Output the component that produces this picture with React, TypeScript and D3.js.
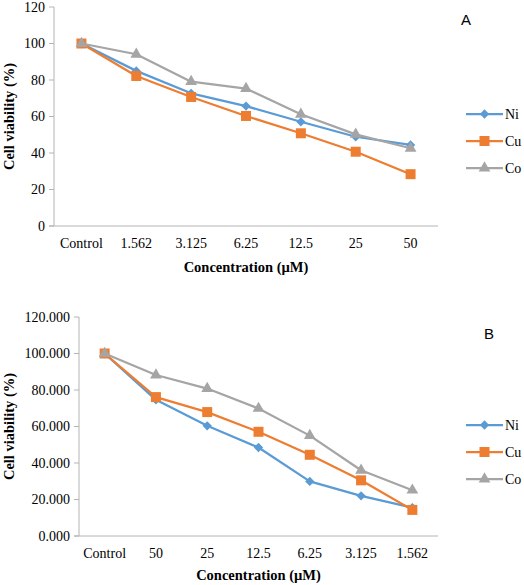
import React, { useEffect, useRef } from "react";
import * as d3 from "d3";

const seriesNames = ["Ni", "Cu", "Co"];
const colors = ["#5B9BD5", "#ED7D31", "#A5A5A5"];

const catsA = ["Control", "1.562", "3.125", "6.25", "12.5", "25", "50"];
const niA = [100, 85, 72.7, 65.7, 57.1, 48.9, 44.4];
const cuA = [100, 82.2, 70.7, 60.3, 50.8, 40.7, 28.4];
const coA = [100, 94.1, 79.1, 75.3, 61.2, 50.2, 42.6];
const ticksA = [0, 20, 40, 60, 80, 100, 120];

const catsB = ["Control", "50", "25", "12.5", "6.25", "3.125", "1.562"];
const niB = [100, 74.6, 60.4, 48.5, 29.9, 22.0, 15.6];
const cuB = [100, 76.1, 67.9, 57.1, 44.5, 30.5, 14.3];
const coB = [100, 88.2, 80.8, 69.9, 55.0, 36.0, 25.1];
const ticksB = [0, 20, 40, 60, 80, 100, 120];

type Panel = {
  cats: string[];
  series: number[][];
  ticks: number[];
  fmt: (v: number) => string;
  left: number;
  right: number;
  top: number;
  bottom: number;
  label: string;
  labelX: number;
  labelY: number;
  legendY: number;
  xTitleY: number;
  tickLabelY: number;
};

export default function App() {
  const ref = useRef<SVGSVGElement>(null);

  useEffect(() => {
    const svg = d3.select(ref.current);
    svg.selectAll("*").remove();

    const panels: Panel[] = [
      {
        cats: catsA,
        series: [niA, cuA, coA],
        ticks: ticksA,
        fmt: d3.format("d"),
        left: 54,
        right: 438,
        top: 7,
        bottom: 226,
        label: "A",
        labelX: 466,
        labelY: 20,
        legendY: 114,
        xTitleY: 267,
        tickLabelY: 243,
      },
      {
        cats: catsB,
        series: [niB, cuB, coB],
        ticks: ticksB,
        fmt: d3.format(".3f"),
        left: 79,
        right: 438,
        top: 317,
        bottom: 536,
        label: "B",
        labelX: 489,
        labelY: 334,
        legendY: 425,
        xTitleY: 575,
        tickLabelY: 553,
      },
    ];

    const axisColor = "#b4b4b4";

    panels.forEach((p) => {
      const g = svg.append("g");
      const x = d3.scaleBand<string>().domain(p.cats).range([p.left, p.right]);
      const y = d3.scaleLinear().domain([0, 120]).range([p.bottom, p.top]);
      const cx = (c: string) => (x(c) as number) + x.bandwidth() / 2;

      // y axis line
      g.append("line")
        .attr("x1", p.left).attr("x2", p.left)
        .attr("y1", y(120)).attr("y2", y(0))
        .attr("stroke", axisColor).attr("stroke-width", 1);
      // x axis line
      g.append("line")
        .attr("x1", p.left - 5).attr("x2", p.right)
        .attr("y1", y(0)).attr("y2", y(0))
        .attr("stroke", axisColor).attr("stroke-width", 1);

      // y ticks
      p.ticks.forEach((t) => {
        g.append("line")
          .attr("x1", p.left - 5).attr("x2", p.left)
          .attr("y1", y(t)).attr("y2", y(t))
          .attr("stroke", axisColor).attr("stroke-width", 1);
        g.append("text")
          .attr("x", p.left - 9)
          .attr("y", y(t))
          .attr("dy", "0.35em")
          .attr("text-anchor", "end")
          .attr("font-family", "'Liberation Serif', 'Times New Roman', serif")
          .attr("font-size", 14)
          .attr("fill", "#000")
          .text(p.fmt(t));
      });

      // x tick labels
      p.cats.forEach((c) => {
        g.append("text")
          .attr("x", cx(c))
          .attr("y", p.tickLabelY)
          .attr("dy", "0.35em")
          .attr("text-anchor", "middle")
          .attr("font-family", "'Liberation Serif', 'Times New Roman', serif")
          .attr("font-size", 14)
          .attr("fill", "#000")
          .text(c);
      });

      // axis titles
      g.append("text")
        .attr("x", (p.left + p.right) / 2)
        .attr("y", p.xTitleY)
        .attr("dy", "0.35em")
        .attr("text-anchor", "middle")
        .attr("font-family", "'Liberation Serif', 'Times New Roman', serif")
        .attr("font-weight", "bold")
        .attr("font-size", 14.5)
        .text("Concentration (µM)");

      g.append("text")
        .attr("transform", `translate(9,${(p.top + p.bottom) / 2}) rotate(-90)`)
        .attr("dy", "0.35em")
        .attr("text-anchor", "middle")
        .attr("font-family", "'Liberation Serif', 'Times New Roman', serif")
        .attr("font-weight", "bold")
        .attr("font-size", 14.5)
        .text("Cell viability (%)");

      const line = d3
        .line<number>()
        .x((_, i) => cx(p.cats[i]))
        .y((d) => y(d));

      const drawMarker = (sel: d3.Selection<SVGGElement, unknown, null, undefined>, k: number, mx: number, my: number) => {
        if (k === 0) {
          sel.append("path")
            .attr("d", d3.symbol().type(d3.symbolDiamond2).size(55)())
            .attr("transform", `translate(${mx},${my})`)
            .attr("fill", colors[k]);
        } else if (k === 1) {
          sel.append("rect")
            .attr("x", mx - 5).attr("y", my - 5)
            .attr("width", 10).attr("height", 10)
            .attr("fill", colors[k]);
        } else {
          sel.append("path")
            .attr("d", d3.symbol().type(d3.symbolTriangle).size(60)())
            .attr("transform", `translate(${mx},${my})`)
            .attr("fill", colors[k]);
        }
      };

      p.series.forEach((vals, k) => {
        const sg = g.append("g");
        sg.append("path")
          .datum(vals)
          .attr("d", line)
          .attr("fill", "none")
          .attr("stroke", colors[k])
          .attr("stroke-width", 2.25)
          .attr("stroke-linejoin", "round");
        vals.forEach((v, i) => drawMarker(sg as any, k, cx(p.cats[i]), y(v)));
      });

      // legend
      seriesNames.forEach((name, k) => {
        const ly = p.legendY + k * 27;
        const lg = g.append("g");
        lg.append("line")
          .attr("x1", 466).attr("x2", 503)
          .attr("y1", ly).attr("y2", ly)
          .attr("stroke", colors[k]).attr("stroke-width", 2.25);
        drawMarker(lg as any, k, 484.5, ly);
        lg.append("text")
          .attr("x", 505)
          .attr("y", ly)
          .attr("dy", "0.35em")
          .attr("font-family", "'Liberation Serif', 'Times New Roman', serif")
          .attr("font-size", 14)
          .attr("fill", "#000")
          .text(name);
      });

      // panel label
      g.append("text")
        .attr("x", p.labelX)
        .attr("y", p.labelY)
        .attr("dy", "0.35em")
        .attr("text-anchor", "middle")
        .attr("font-family", "'Liberation Sans', Arial, sans-serif")
        .attr("font-size", 15)
        .attr("fill", "#000")
        .text(p.label);
    });
  }, []);

  return (
    <div style={{ position: "absolute", left: 0, top: 0 }}>
      <svg ref={ref} width={524} height={585} style={{ display: "block", background: "#fff" }} />
    </div>
  );
}
